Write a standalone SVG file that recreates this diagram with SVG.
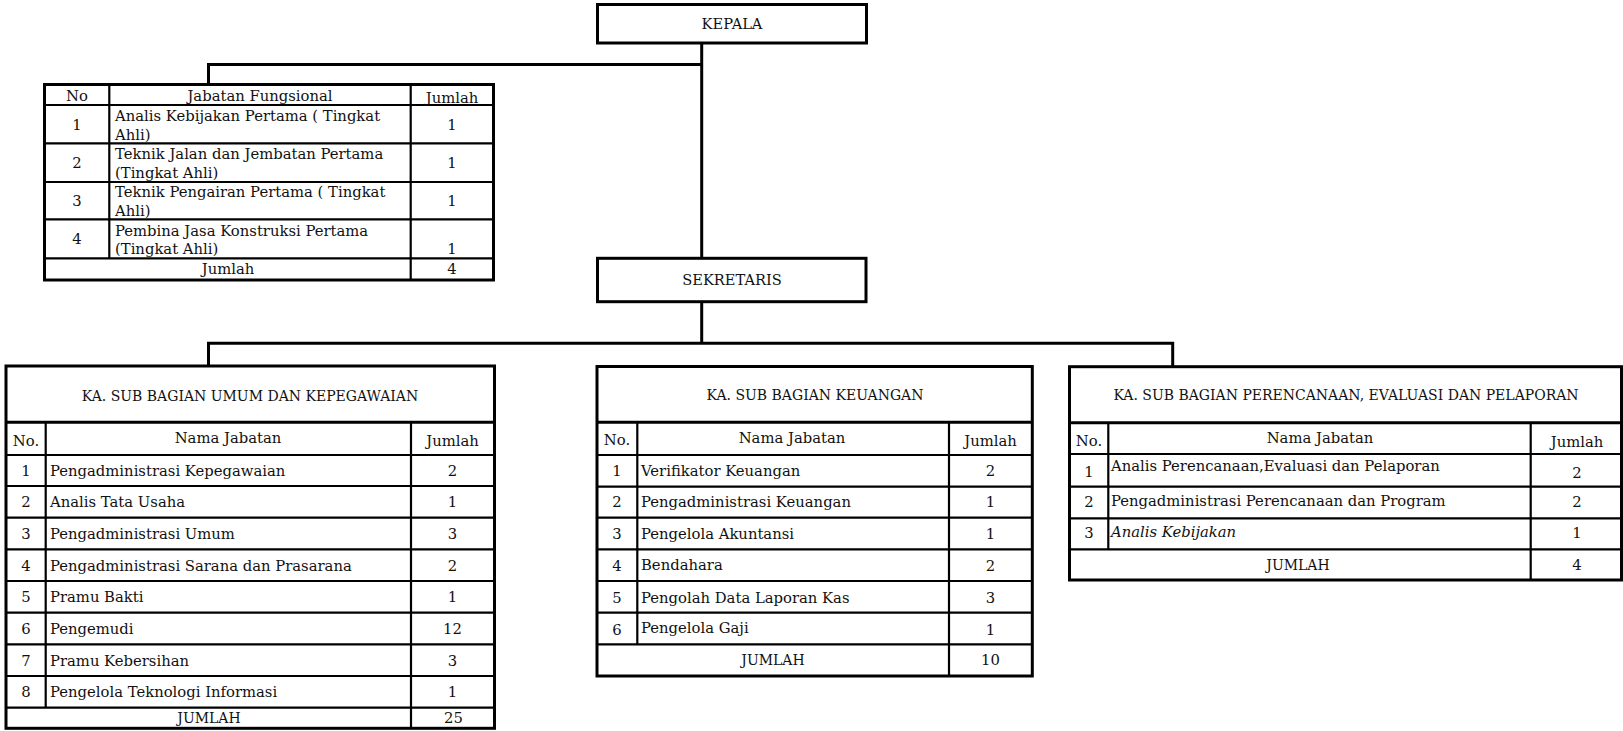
<svg xmlns="http://www.w3.org/2000/svg" width="1623" height="731" viewBox="0 0 1623 731">
<style>
.box{fill:#fff;stroke:#000;stroke-width:3}
.ln{stroke:#000;stroke-width:2.2;fill:none}
.lt{stroke:#000;stroke-width:3;fill:none}
.conn{stroke:#000;stroke-width:3;fill:none}
text{font-family:"DejaVu Serif","Liberation Serif",serif;font-size:14.8px;fill:#111}
.cap{font-size:14px}
.hd{font-size:14.6px}
.c{text-anchor:middle}
.i{font-style:italic}
</style>
<rect width="1623" height="731" fill="#fff"/>
<g id="connectors">
<path class="conn" d="M701.7 43 V258.3"/>
<path class="conn" d="M208.5 84.5 V64.5 H701.7"/>
<path class="conn" d="M701.7 301.7 V343.3"/>
<path class="conn" d="M208.5 366 V343.3 H1172.7 V366.7"/>
</g>
<g id="kepala">
<rect class="box" x="597.5" y="4.5" width="269" height="38.5"/>
<text class="c hd" x="732" y="29.3">KEPALA</text>
</g>
<g id="sekretaris">
<rect class="box" x="597.5" y="258.3" width="268.5" height="43.4"/>
<text class="c hd" x="732" y="285">SEKRETARIS</text>
</g>
<g id="jabatan-fungsional">
<rect class="box" x="44.5" y="84.5" width="449" height="195.5"/>
<path class="ln" d="M44.5 105 H493.5 M44.5 143.3 H493.5 M44.5 182 H493.5 M44.5 219.3 H493.5 M44.5 258.3 H493.5 M109.3 84.5 V258.3 M410.7 84.5 V280"/>
<text class="c" x="77" y="100.7">No</text>
<text class="c" x="260" y="100.7">Jabatan Fungsional</text>
<text class="c" x="452" y="102.5">Jumlah</text>
<text class="c" x="77" y="130">1</text>
<text x="115" y="120.7">Analis Kebijakan Pertama ( Tingkat</text>
<text x="115" y="140">Ahli)</text>
<text class="c" x="452" y="130">1</text>
<text class="c" x="77" y="168.3">2</text>
<text x="115" y="159.3">Teknik Jalan dan Jembatan Pertama</text>
<text x="115" y="178.3">(Tingkat Ahli)</text>
<text class="c" x="452" y="168.3">1</text>
<text class="c" x="77" y="206">3</text>
<text x="115" y="196.7">Teknik Pengairan Pertama ( Tingkat</text>
<text x="115" y="215.5">Ahli)</text>
<text class="c" x="452" y="206">1</text>
<text class="c" x="77" y="244">4</text>
<text x="115" y="235.7">Pembina Jasa Konstruksi Pertama</text>
<text x="115" y="254">(Tingkat Ahli)</text>
<text class="c" x="452" y="254">1</text>
<text class="c" x="228" y="274">Jumlah</text>
<text class="c" x="452" y="274">4</text>
</g>
<g id="sub-umum-kepegawaian">
<rect class="box" x="6" y="366" width="488.5" height="362.3"/>
<path class="lt" d="M6 422.3 H494.5"/>
<path class="ln" d="M6 455 H494.5 M6 486 H494.5 M6 517.7 H494.5 M6 549.3 H494.5 M6 581 H494.5 M6 612.7 H494.5 M6 644.3 H494.5 M6 676 H494.5 M6 707.7 H494.5 M45.7 422.3 V707.7 M411 422.3 V728.3"/>
<text class="c cap" x="250" y="400.5">KA. SUB BAGIAN UMUM DAN KEPEGAWAIAN</text>
<text class="c" x="26" y="446">No.</text>
<text class="c" x="228" y="442.5">Nama Jabatan</text>
<text class="c" x="452.5" y="446">Jumlah</text>
<text class="c" x="26" y="475.5">1</text><text x="50" y="475.5">Pengadministrasi Kepegawaian</text><text class="c" x="452.5" y="475.5">2</text>
<text class="c" x="26" y="507.2">2</text><text x="50" y="507.2">Analis Tata Usaha</text><text class="c" x="452.5" y="507.2">1</text>
<text class="c" x="26" y="538.8">3</text><text x="50" y="538.8">Pengadministrasi Umum</text><text class="c" x="452.5" y="538.8">3</text>
<text class="c" x="26" y="570.5">4</text><text x="50" y="570.5">Pengadministrasi Sarana dan Prasarana</text><text class="c" x="452.5" y="570.5">2</text>
<text class="c" x="26" y="602.2">5</text><text x="50" y="602.2">Pramu Bakti</text><text class="c" x="452.5" y="602.2">1</text>
<text class="c" x="26" y="633.8">6</text><text x="50" y="633.8">Pengemudi</text><text class="c" x="452.5" y="633.8">12</text>
<text class="c" x="26" y="665.5">7</text><text x="50" y="665.5">Pramu Kebersihan</text><text class="c" x="452.5" y="665.5">3</text>
<text class="c" x="26" y="697.2">8</text><text x="50" y="697.2">Pengelola Teknologi Informasi</text><text class="c" x="452.5" y="697.2">1</text>
<text class="c cap" x="209" y="723">JUMLAH</text>
<text class="c" x="453.5" y="723">25</text>
</g>
<g id="sub-keuangan">
<rect class="box" x="597" y="366.5" width="435.3" height="309.5"/>
<path class="lt" d="M597 422.3 H1032.3"/>
<path class="ln" d="M597 455 H1032.3 M597 486.7 H1032.3 M597 517.7 H1032.3 M597 549.3 H1032.3 M597 581 H1032.3 M597 612.7 H1032.3 M597 644.3 H1032.3 M637.3 422.3 V644.3 M949 422.3 V676"/>
<text class="c cap" x="815" y="399.5">KA. SUB BAGIAN KEUANGAN</text>
<text class="c" x="617" y="445">No.</text>
<text class="c" x="792" y="442.7">Nama Jabatan</text>
<text class="c" x="990.5" y="446">Jumlah</text>
<text class="c" x="617" y="476">1</text><text x="641" y="476">Verifikator Keuangan</text><text class="c" x="990.5" y="476">2</text>
<text class="c" x="617" y="507.3">2</text><text x="641" y="507.3">Pengadministrasi Keuangan</text><text class="c" x="990.5" y="507.3">1</text>
<text class="c" x="617" y="539">3</text><text x="641" y="538.5">Pengelola Akuntansi</text><text class="c" x="990.5" y="539">1</text>
<text class="c" x="617" y="570.5">4</text><text x="641" y="570">Bendahara</text><text class="c" x="990.5" y="570.5">2</text>
<text class="c" x="617" y="602.5">5</text><text x="641" y="602.5">Pengolah Data Laporan Kas</text><text class="c" x="990.5" y="602.5">3</text>
<text class="c" x="617" y="634.5">6</text><text x="641" y="633">Pengelola Gaji</text><text class="c" x="990.5" y="634.5">1</text>
<text class="c cap" x="773" y="665">JUMLAH</text>
<text class="c" x="990.5" y="665">10</text>
</g>
<g id="sub-perencanaan">
<rect class="box" x="1069.5" y="366.7" width="552" height="213.3"/>
<path class="lt" d="M1069.5 422.7 H1621.5"/>
<path class="ln" d="M1069.5 454 H1621.5 M1069.5 486.7 H1621.5 M1069.5 518.3 H1621.5 M1069.5 549.3 H1621.5 M1108.3 422.7 V549.3 M1530.7 422.7 V580"/>
<text class="c cap" x="1346" y="400">KA. SUB BAGIAN PERENCANAAN, EVALUASI DAN PELAPORAN</text>
<text class="c" x="1089" y="446">No.</text>
<text class="c" x="1320" y="443.3">Nama Jabatan</text>
<text class="c" x="1577" y="447">Jumlah</text>
<text class="c" x="1089" y="477">1</text><text x="1111" y="470.5">Analis Perencanaan,Evaluasi dan Pelaporan</text><text class="c" x="1577" y="478">2</text>
<text class="c" x="1089" y="506.7">2</text><text x="1111" y="505.5">Pengadministrasi Perencanaan dan Program</text><text class="c" x="1577" y="506.7">2</text>
<text class="c" x="1089" y="538">3</text><text class="i" x="1111" y="536.7">Analis Kebijakan</text><text class="c" x="1577" y="538">1</text>
<text class="c cap" x="1298" y="570">JUMLAH</text>
<text class="c" x="1577" y="570">4</text>
</g>
</svg>
